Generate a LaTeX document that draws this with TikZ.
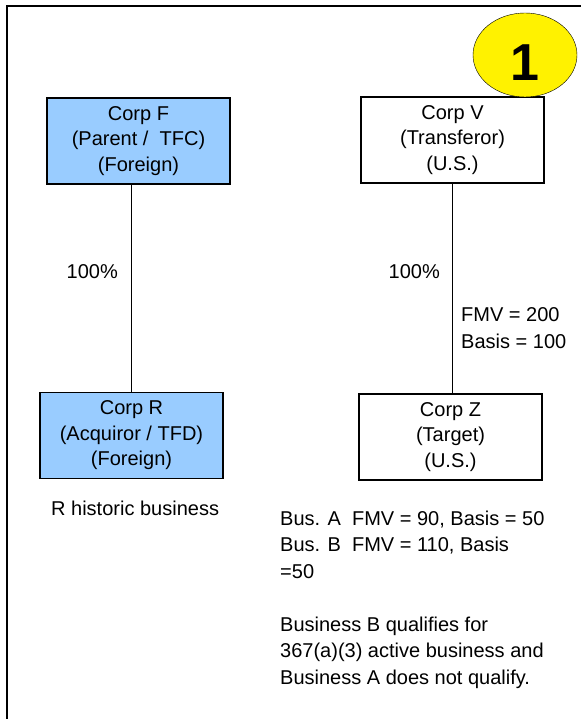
\documentclass[tikz,border=0pt]{standalone}
\usepackage{fontspec}
\setmainfont{Liberation Sans}
\usetikzlibrary{shapes.geometric}
\definecolor{foreignblue}{RGB}{153,204,255}

\begin{document}
\begin{tikzpicture}[x=1pt, y=-1pt,
    corp/.style ={rectangle, draw, line width=1.3pt, align=center, minimum width=183pt, minimum height=86pt, inner sep=0pt, font=\fontsize{20}{25.5}\selectfont},
    foreign/.style ={corp, fill=foreignblue},
    note/.style ={align=left, inner sep=0pt, font=\fontsize{20}{26.5}\selectfont}]
   \useasboundingbox (0,0) rectangle (581,719);
   \draw[line width=2pt] (7,719) -- (7,6.5) -- (581,6.5);

   \node[foreign] (F) at (138.5,141) {Corp F\\(Parent /~ TFC)\\(Foreign)};
   \node[foreign] (R) at (131.5,435.5) {Corp R\\(Acquiror / TFD)\\(Foreign)};
   \node[corp] (V) at (452.5,140) {Corp V\\(Transferor)\\(U.S.)};
   \node[corp] (Z) at (450.5,437) {Corp Z\\(Target)\\(U.S.)};
   \node[ellipse, draw, fill=yellow, minimum width=104pt, minimum height=84pt, inner sep=0pt,
         text height=52pt, text depth=0pt, font=\bfseries\fontsize{52}{52}\selectfont] (step) at (525,55) {1};

   \draw[line width=1pt] (R.north) -- (R.north |- F.south);
   \draw[line width=1pt] (V.south) -- (V.south |- Z.north);

   \node[note, anchor=base east] (pctF) at (118,278) {100\%};
   \node[note, anchor=base east] (pctV) at (440,278) {100\%};
   \node[note, anchor=base west] (value) at (461,348) {FMV = 200\\Basis = 100};
   \node[note, anchor=base west] (hist) at (51,515) {R historic business};
   \node[note, anchor=base west] (bus) at (280,578) {Bus. A~ FMV = 90, Basis = 50\\Bus. B~ FMV = 110, Basis\\=50};
   \node[note, anchor=base west] (qual) at (280,684) {Business B qualifies for\\367(a)(3) active business and\\Business A does not qualify.};
\end{tikzpicture}
\end{document}
